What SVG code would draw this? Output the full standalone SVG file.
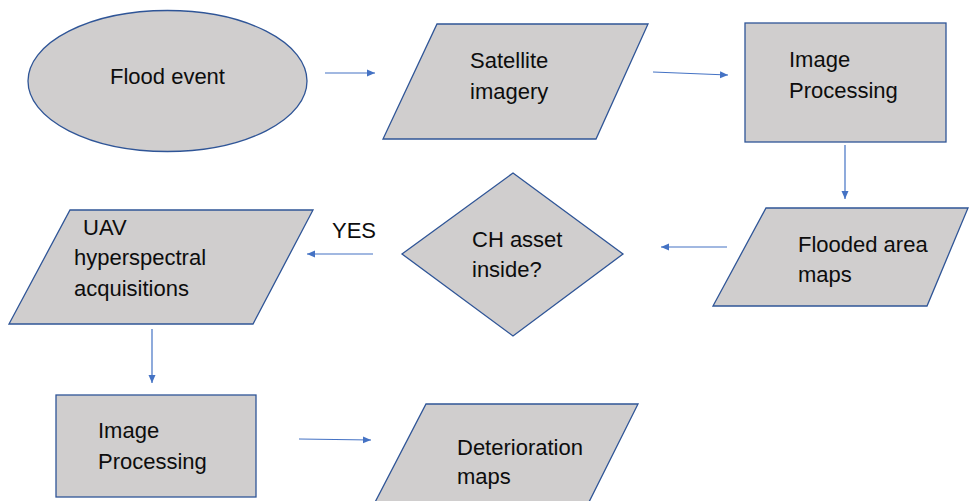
<svg xmlns="http://www.w3.org/2000/svg" width="969" height="501" viewBox="0 0 969 501">
<style>
.shape{fill:#D0CECE;stroke:#2F5597;stroke-width:1.3}
.lbl{font-family:"Liberation Sans",Arial,sans-serif;font-size:22px;fill:#0d0d0d}
.conn{stroke:#4472C4;stroke-width:1.2;fill:none;marker-end:url(#ah)}
</style>
<defs>
<marker id="ah" markerUnits="userSpaceOnUse" markerWidth="9" markerHeight="8" refX="8" refY="4" orient="auto">
<path d="M0,0.5 L8,4 L0,7.5 z" fill="#4472C4"/>
</marker>
</defs>
<rect width="969" height="501" fill="#ffffff"/>
<g id="n-flood-event">
<ellipse class="shape" cx="167.5" cy="81" rx="139.5" ry="70.5"/>
<text class="lbl" x="110" y="84">Flood event</text>
</g>
<g id="n-satellite">
<polygon class="shape" points="437,24 648,24 596,139 383,139"/>
<text class="lbl" x="470" y="68">Satellite</text>
<text class="lbl" x="470" y="99">imagery</text>
</g>
<g id="n-image-processing-1">
<rect class="shape" x="745" y="23" width="201" height="119"/>
<text class="lbl" x="789" y="67">Image</text>
<text class="lbl" x="789" y="98">Processing</text>
</g>
<g id="n-flooded-area">
<polygon class="shape" points="766,208 968,208 927,306 713,306"/>
<text class="lbl" x="798" y="252">Flooded area</text>
<text class="lbl" x="798" y="282">maps</text>
</g>
<g id="n-ch-asset">
<polygon class="shape" points="513,173 623,254 513,336 402,254"/>
<text class="lbl" x="472" y="247">CH asset</text>
<text class="lbl" x="472" y="277">inside?</text>
</g>
<g id="n-uav">
<polygon class="shape" points="70,210 313,210 253,324 9,324"/>
<text class="lbl" x="83" y="235">UAV</text>
<text class="lbl" x="74" y="265">hyperspectral</text>
<text class="lbl" x="74" y="296">acquisitions</text>
</g>
<g id="n-image-processing-2">
<rect class="shape" x="56" y="395" width="200" height="102"/>
<text class="lbl" x="98" y="438">Image</text>
<text class="lbl" x="98" y="469">Processing</text>
</g>
<g id="n-deterioration">
<polygon class="shape" points="426,404 638,404 585,510 371,510"/>
<text class="lbl" x="457" y="455">Deterioration</text>
<text class="lbl" x="457" y="484">maps</text>
</g>
<g id="connectors">
<line class="conn" x1="325" y1="73" x2="375" y2="73"/>
<line class="conn" x1="653" y1="72" x2="728" y2="75"/>
<line class="conn" x1="845" y1="145" x2="845" y2="199"/>
<line class="conn" x1="727" y1="247" x2="661" y2="247"/>
<line class="conn" x1="373" y1="254" x2="307" y2="254"/>
<line class="conn" x1="152" y1="329" x2="152" y2="383"/>
<line class="conn" x1="299" y1="439" x2="371" y2="440"/>
<text class="lbl" x="332" y="238">YES</text>
</g>
</svg>
